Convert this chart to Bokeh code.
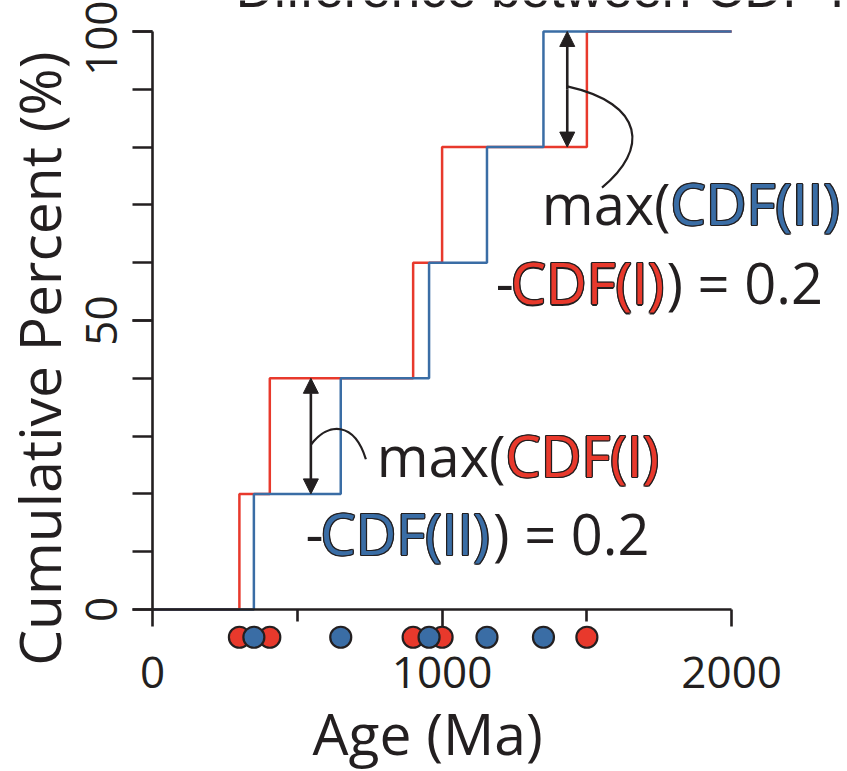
import numpy as np
from bokeh.plotting import figure
from bokeh.models import FixedTicker, Range1d, Arrow, NormalHead
from bokeh.core.properties import value
from bokeh.embed import file_html
from bokeh.resources import INLINE

# Detrital ages (Ma) for the two samples
ages_I = [300, 405, 900, 1000, 1500]
ages_II = [350, 650, 955, 1155, 1350]
age_max = 2000

x_ticks = [0, 1000, 2000]
x_minor = [500, 1500]
y_ticks = [0, 50, 100]
y_minor = list(range(0, 101, 10))

RED = "#E8392C"
BLUE = "#3A6DA5"
INK = "#231F20"
FONT = "Open Sans"


def cdf_steps(ages):
    a = np.sort(np.asarray(ages, dtype=float))
    n = len(a)
    xs = np.concatenate([[0.0], a, [age_max]])
    ys = np.concatenate([[0.0], 100.0 * np.arange(1, n + 1) / n, [100.0]])
    return xs, ys


def ecdf(ages, pts):
    a = np.sort(np.asarray(ages, dtype=float))
    return 100.0 * np.searchsorted(a, pts, side="right") / len(a)


# the plotting area fills the page; both axes are pinned to the origin
p = figure(width=847, height=771,
           min_border_left=0, min_border_right=0,
           min_border_top=0, min_border_bottom=0,
           x_range=Range1d(-525, 2400), y_range=Range1d(-28.03, 105.36),
           output_backend="svg", toolbar_location=None)
p.outline_line_color = None
p.grid.visible = False
p.background_fill_color = "white"
p.border_fill_color = "white"

xa = p.xaxis[0]
xa.fixed_location = 0
xa.bounds = (0, age_max)
xa.ticker = FixedTicker(ticks=x_ticks, minor_ticks=x_minor)
xa.major_tick_out = 17
xa.minor_tick_out = 12
xa.major_label_standoff = 31
ya = p.yaxis[0]
ya.fixed_location = 0
ya.bounds = (0, 100)
ya.ticker = FixedTicker(ticks=y_ticks, minor_ticks=y_minor)
ya.major_tick_out = 20
ya.minor_tick_out = 20
ya.major_label_orientation = "vertical"
ya.major_label_standoff = 16
for ax in (xa, ya):
    ax.major_tick_in = 0
    ax.minor_tick_in = 0
    ax.axis_line_width = 2.6
    ax.axis_line_color = INK
    ax.major_tick_line_width = 2.6
    ax.minor_tick_line_width = 2.6
    ax.major_tick_line_color = INK
    ax.minor_tick_line_color = INK
    ax.major_label_text_font = FONT
    ax.major_label_text_font_size = "44px"
    ax.major_label_text_color = INK

# cumulative distribution curves
xI, yI = cdf_steps(ages_I)
xII, yII = cdf_steps(ages_II)
p.step(xI, yI, mode="after", line_color=RED, line_width=2.5)
p.step(xII, yII, mode="after", line_color=BLUE, line_width=2.5)

# rug of sample ages under the axis
rug_y = -4.8
p.scatter(ages_I, [rug_y] * len(ages_I), size=21, fill_color=RED,
          line_color=INK, line_width=2.2)
p.scatter(ages_II, [rug_y] * len(ages_II), size=21, fill_color=BLUE,
          line_color=INK, line_width=2.2)

# largest vertical separations between the two curves
grid = np.linspace(0, age_max, 4001)
fI = ecdf(ages_I, grid)
fII = ecdf(ages_II, grid)


def gap_arrow(upper, lower, frac):
    diff = upper - lower
    hit = np.isclose(diff, diff.max())
    # longest contiguous stretch where the gap is largest
    start, runs = None, []
    for i, h in enumerate(np.append(hit, False)):
        if h and start is None:
            start = i
        elif not h and start is not None:
            runs.append((start, i - 1))
            start = None
    best = max(runs, key=lambda r: r[1] - r[0])
    x0, x1 = grid[best[0]], grid[best[1]]
    return x0 + frac * (x1 - x0), lower[best[0]], upper[best[0]]


ax1, lo1, hi1 = gap_arrow(fI, fII, 0.58)
ax2, lo2, hi2 = gap_arrow(fII, fI, 0.55)
for xx, lo, hi in ((ax1, lo1, hi1), (ax2, lo2, hi2)):
    for tip in (hi, lo):
        p.add_layout(Arrow(x_start=xx, y_start=(lo + hi) / 2, x_end=xx, y_end=tip,
                           line_color=INK, line_width=2.6,
                           end=NormalHead(size=15, fill_color=INK, line_color=INK)))

# leader curves from the arrows to their labels
p.bezier(x0=[ax1, ax2], y0=[(lo1 + hi1) / 2 - 1.5, (lo2 + hi2) / 2 + 0.5],
         cx0=[ax1 + 60, ax2 + 270], cy0=[32.5, 87.5],
         cx1=[ax1 + 150, ax2 + 280], cy1=[32.5, 79.5],
         x1=[ax1 + 190, ax2 + 120], y1=[26.0, 73.0],
         line_color=INK, line_width=2.2)

# annotation text, built from coloured pieces
TS = "56px"
LIFT = 3.5  # raises the text baseline onto the intended line
HALO = [(-1.3, 0), (1.3, 0), (0, -1.3), (0, 1.3),
        (-0.95, -0.95), (0.95, 0.95), (-0.95, 0.95), (0.95, -0.95)]


def piece(x, y, txt, color=None, align="left"):
    kw = dict(text_font=value(FONT), text_font_size=TS, text_align=align,
              text_baseline="alphabetic")
    y = y + LIFT
    if color is None:
        p.text(x=[x], y=[y], text=[txt], text_color=INK, **kw)
        return
    # dark rim under the coloured letters
    for dx, dy in HALO:
        p.text(x=[x], y=[y], text=[txt], text_color=INK,
               x_offset=dx, y_offset=dy, **kw)
    p.text(x=[x], y=[y], text=[txt], text_color=color, **kw)


# max(CDF(I) - CDF(II)) label
piece(1219, 23.2, "max(", align="right")
piece(1219, 23.2, "CDF(I)", RED)
piece(528, 9.7, "-")
piece(580, 9.7, "CDF(II)", BLUE)
piece(1176, 9.7, ") = 0.2")
# max(CDF(II) - CDF(I)) label
piece(1789, 66.8, "max(", align="right")
piece(1789, 66.8, "CDF(II)", BLUE)
piece(1185, 53.1, "-")
piece(1237, 53.1, "CDF(I)", RED)
piece(1775, 53.1, ") = 0.2")

# axis titles and heading
p.text(x=[-392], y=[43.4], text=["Cumulative Percent (%)"], angle=np.pi / 2,
       text_align="center", text_baseline="alphabetic",
       text_font=value(FONT), text_font_size="57px", text_color=INK)
p.text(x=[950], y=[-21.4], text=["Age (Ma)"],
       text_align="center", text_baseline="alphabetic",
       text_font=value(FONT), text_font_size="57px", text_color=INK)
p.text(x=[287], y=[107.4], text=["Difference between CDF I and CDF II"],
       text_align="left", text_baseline="alphabetic",
       text_font=value("Liberation Sans"), text_font_size="53px", text_color=INK)

open("out.html", "w").write(file_html(p, INLINE))
